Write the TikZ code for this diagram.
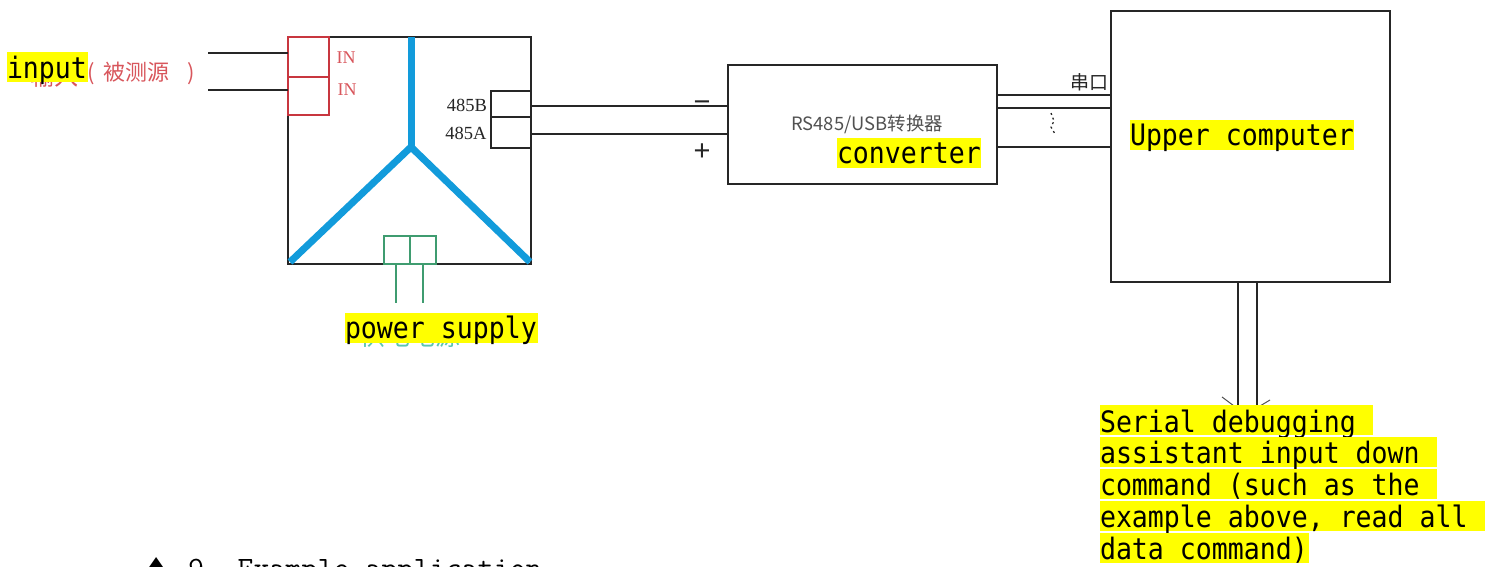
\documentclass[tikz,border=0pt]{standalone}
\usepackage{fontspec}
\setmainfont{Liberation Serif}
\newfontfamily\cjk{Noto Sans CJK SC}
\newfontfamily\hlmono[FakeStretch=0.9]{DejaVu Sans Mono}
\newfontfamily\sym[FakeStretch=1.4]{DejaVu Sans}
\newfontfamily\lab{Liberation Sans}
\definecolor{ink}{HTML}{262626}
\definecolor{meterblue}{HTML}{129BDB}
\definecolor{redline}{HTML}{C8363F}
\definecolor{redtext}{HTML}{D8565C}
\definecolor{greenline}{HTML}{3F9C70}
\definecolor{tealtext}{HTML}{5CC4B0}
\definecolor{hlyellow}{HTML}{FFFF00}
\tikzset{
  wire/.style={draw=ink,line width=1.4pt},
  boxk/.style={draw=ink,line width=1.5pt,rectangle,inner sep=0pt,outer sep=0pt,anchor=north west},
  boxr/.style={draw=redline,line width=1.5pt,rectangle,inner sep=0pt,outer sep=0pt,anchor=north west},
  boxg/.style={draw=greenline,line width=1.4pt,rectangle,inner sep=0pt,outer sep=0pt,anchor=north west},
  arm/.style={draw=meterblue,line width=7pt},
  hl/.style={fill=hlyellow,inner sep=0pt,outer sep=0pt,anchor=north west,align=flush left,text height=25pt,text depth=5pt,font=\hlmono\fontsize{29.5pt}{30pt}\selectfont,text=black},
}
\begin{document}
\begin{tikzpicture}[x=1pt,y=-1pt]
\useasboundingbox (0,0) rectangle (1498,567);
\clip (0,0) rectangle (1498,567);
% meter
\node[boxk,minimum width=243pt,minimum height=227pt] (meter) at (288,37) {};
\node[boxr,minimum width=41pt,minimum height=40pt] (in1) at (288,37) {};
\node[boxr,minimum width=41pt,minimum height=38pt] (in2) at (288,77) {};
\node[inner sep=0pt,font=\fontsize{18pt}{20pt}\selectfont,text=redtext] (in1t) at (346,58) {IN};
\node[inner sep=0pt,font=\fontsize{18pt}{20pt}\selectfont,text=redtext] (in2t) at (347,90) {IN};
\coordinate (wa) at (208,53);
\coordinate (wa2) at (288,53);
\coordinate (wb) at (208,90);
\coordinate (wb2) at (288,90);
\draw[wire] (wa) -- (wa2);
\draw[wire] (wb) -- (wb2);
\coordinate (hub) at (411,147);
\coordinate (armtop) at (411,37);
\coordinate (armleft) at (290,262);
\coordinate (armright) at (530,262);
\draw[arm] (armtop) -- (hub);
\draw[arm,line join=miter] (armleft) -- (hub) -- (armright);
% 485 ports
\node[boxk,minimum width=40pt,minimum height=26pt] (pb) at (491,91) {};
\node[boxk,minimum width=40pt,minimum height=31pt] (pa) at (491,117) {};
\node[inner sep=0pt,font=\fontsize{18.5pt}{20pt}\selectfont,text=ink] (pbt) at (467,105) {485B};
\node[inner sep=0pt,font=\fontsize{18.5pt}{20pt}\selectfont,text=ink] (pat) at (466,133) {485A};
% power
\node[boxg,minimum width=26pt,minimum height=28pt] (g1) at (384,236) {};
\node[boxg,minimum width=26pt,minimum height=28pt] (g2) at (410,236) {};
\coordinate (ga) at (396,264);
\coordinate (ga2) at (396,303);
\coordinate (gb) at (423,264);
\coordinate (gb2) at (423,303);
\draw[greenline,line width=1.2pt] (ga) -- (ga2);
\draw[greenline,line width=1.2pt] (gb) -- (gb2);
% converter
\node[boxk,minimum width=269pt,minimum height=119pt] (conv) at (728,65) {};
\node[inner sep=0pt,text=ink!80,font=\cjk\fontsize{18.4pt}{20pt}\selectfont] (convt) at (867,124) {RS485/USB转换器};
\coordinate (p1) at (531,106);
\coordinate (p1e) at (728,106);
\coordinate (p2) at (531,134);
\coordinate (p2e) at (728,134);
\draw[wire] (p1) -- (p1e);
\draw[wire] (p2) -- (p2e);
\node[inner sep=0pt,font=\lab\fontsize{29pt}{30pt}\selectfont,text=ink] (minus) at (702,106) {−};
\node[inner sep=0pt,font=\lab\fontsize{29pt}{30pt}\selectfont,text=ink] (plus) at (702,152) {+};
% upper computer
\node[boxk,minimum width=279pt,minimum height=271pt] (pc) at (1111,11) {};
\coordinate (s1) at (997,95);
\coordinate (s1e) at (1111,95);
\coordinate (s2) at (997,108);
\coordinate (s2e) at (1111,108);
\coordinate (s3) at (997,147);
\coordinate (s3e) at (1111,147);
\draw[wire] (s1) -- (s1e);
\draw[wire] (s2) -- (s2e);
\draw[wire] (s3) -- (s3e);
\node[inner sep=0pt,text=ink,font=\cjk\fontsize{19pt}{21pt}\selectfont] (com) at (1089,82) {串口};
\coordinate (d1) at (1051,113);
\coordinate (d2) at (1054,121);
\coordinate (d3) at (1051,127);
\coordinate (d4) at (1055,134);
\draw[ink,line width=1.3pt,dash pattern=on 2pt off 3pt] (d1) -- (d2) -- (d3) -- (d4);
% output lines and arrow
\coordinate (o1) at (1238,282);
\coordinate (o1e) at (1238,410);
\coordinate (o2) at (1257,282);
\coordinate (o2e) at (1257,410);
\draw[wire] (o1) -- (o1e);
\draw[wire] (o2) -- (o2e);
\coordinate (t1) at (1222,397);
\coordinate (t1e) at (1234,406);
\coordinate (t2) at (1270,400);
\coordinate (t2e) at (1260,406);
\draw[ink!80,line width=1pt] (t1) -- (t1e);
\draw[ink!80,line width=1pt] (t2) -- (t2e);
% text under the highlights
\node[inner sep=0pt,text=redtext,font=\cjk\fontsize{24pt}{26pt}\selectfont] (zh1) at (54,76) {输入};
\node[inner sep=0pt,text=redtext,font=\cjk\fontsize{22pt}{26pt}\selectfont] (zh2) at (141,73) {(\hspace{9pt}被测源\hspace{18pt})};
\node[inner sep=0pt,text=tealtext,font=\cjk\fontsize{25pt}{27pt}\selectfont] (zh3) at (410,336) {供电电源};
% highlights
\node[hl,text width=81pt,text height=27pt,text depth=3pt] (hinput) at (7,52) {input};
\node[hl,text width=193pt] (hpower) at (345,313) {power supply};
\node[hl,text width=144pt] (hconv) at (837,138) {converter};
\node[hl,text width=224pt] (hupper) at (1130,120) {Upper computer};
\node[hl,text width=273pt,text height=27pt,text depth=3pt] (h1) at (1100,405) {Serial debugging};
\node[hl,text width=337pt,text height=26pt,text depth=4pt] (h2) at (1100,437) {assistant input down};
\node[hl,text width=337pt,text height=26pt,text depth=4pt] (h3) at (1100,469) {command (such as the};
\node[hl,text width=385pt,text height=26pt,text depth=4pt] (h4) at (1100,501) {example above, read all};
\node[hl,text width=209pt,text height=26pt,text depth=4pt] (h5) at (1100,533) {data command)};
% caption, cut by the lower edge
\node[inner sep=0pt,anchor=base west,font=\sym\fontsize{28pt}{30pt}\selectfont,text=black] (cap0) at (141,575) {▲};
\node[inner sep=0pt,anchor=base west,font=\ttfamily\fontsize{31.1pt}{34pt}\selectfont,text=black] (cap) at (188,578) {9.\hspace{-4pt} Example application};
\end{tikzpicture}
\end{document}
